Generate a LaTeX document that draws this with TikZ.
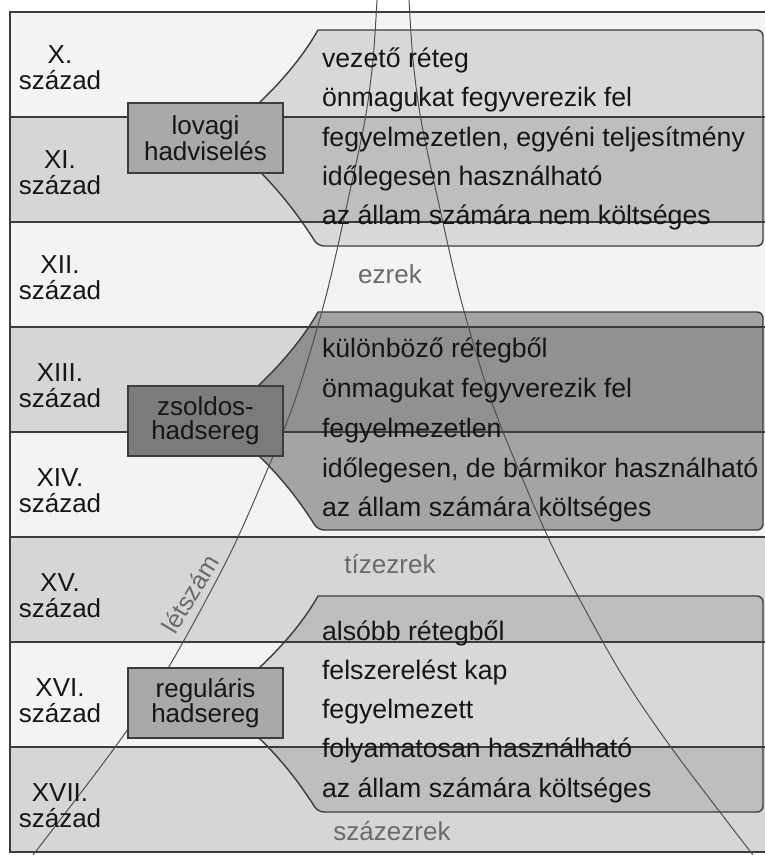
\documentclass[tikz,border=0pt]{standalone}
\usepackage{fontspec}
\setmainfont{Liberation Sans}
\definecolor{bandlight}{HTML}{F3F3F3}
\definecolor{banddark}{HTML}{D6D6D6}
\definecolor{linecol}{HTML}{3C3C3C}
\definecolor{curvecol}{HTML}{505050}
\definecolor{boxlight}{HTML}{A9A9A9}
\definecolor{boxdark}{HTML}{7B7B7B}
\definecolor{graytext}{HTML}{6A6A6A}
\definecolor{txt}{HTML}{161616}
\begin{document}
\begin{tikzpicture}[x=1pt,y=-1pt,
  every node/.style={inner sep=0pt, outer sep=0pt},
  cent/.style={font=\fontsize{26}{26}\selectfont, anchor=base, text=txt},
  ct/.style={font=\fontsize{26.7}{26.7}\selectfont, anchor=base west, text=txt},
  gl/.style={font=\fontsize{26}{26}\selectfont, anchor=base, text=graytext},
  hbox/.style={draw=linecol, line width=1.8pt, minimum width=155pt, minimum height=70pt,
    align=center, font=\fontsize{26}{24}\selectfont, text=txt},
  bandline/.style={draw=linecol, line width=2pt},
  co/.style={draw=linecol, line width=1.4pt, fill=black},
  curve/.style={draw=curvecol, line width=1pt},
]
\useasboundingbox (0,0) rectangle (765,855);
\fill[white] (0,0) rectangle (765,855);

% century bands
\fill[bandlight] (10,12)  rectangle (765,117);
\fill[banddark]  (10,117) rectangle (765,222);
\fill[bandlight] (10,222) rectangle (765,327);
\fill[banddark]  (10,327) rectangle (765,432);
\fill[bandlight] (10,432) rectangle (765,537);
\fill[banddark]  (10,537) rectangle (765,642);
\fill[bandlight] (10,642) rectangle (765,747);
\fill[banddark]  (10,747) rectangle (765,852);

% callouts
\path[co, fill opacity=0.11] (248,113) .. controls (272,92) and (300,62) .. (318,30)
  [rounded corners=6pt] -- (763,30) -- (763,246) -- (318,246) [sharp corners]
  .. controls (300,218) and (280,190) .. (248,160) -- cycle;
\path[co, fill opacity=0.32] (248,395) .. controls (272,374) and (300,344) .. (318,312)
  [rounded corners=6pt] -- (763,312) -- (763,530) -- (318,530) [sharp corners]
  .. controls (300,502) and (280,474) .. (248,446) -- cycle;
\path[co, fill opacity=0.11] (248,678) .. controls (272,657) and (300,628) .. (318,596)
  [rounded corners=6pt] -- (763,596) -- (763,812) -- (318,812) [sharp corners]
  .. controls (300,784) and (280,756) .. (248,728) -- cycle;

% band lines
\foreach \yy in {117,222,327,432,537,642,747} {
  \draw[bandline] (10,\yy) -- (765,\yy);
}
% frame
\draw[draw=linecol, line width=2pt] (10,12) rectangle (770,852);

% headcount curves
\draw[curve] plot[smooth] coordinates {(377,0) (373,60) (365,120) (348,200) (325,300) (295,400) (263,480) (227,560) (167,670) (113,750) (33,855)};
\draw[curve] plot[smooth] coordinates {(409,0) (413,60) (421,120) (438,200) (461,300) (491,400) (523,480) (559,560) (619,670) (673,750) (753,855)};

% boxes
\node[hbox, fill=boxlight] (lovagi) at (205.5,138) {lovagi\\hadviselés};
\node[hbox, fill=boxdark] (zsoldos) at (205.5,421) {zsoldos-\\hadsereg};
\node[hbox, fill=boxlight] (regularis) at (205.5,703) {reguláris\\hadsereg};

% century labels
\node[cent] (c10a) at (60,63) {X.};   \node[cent] (c10b) at (60,89) {század};
\node[cent] (c11a) at (60,168) {XI.}; \node[cent] (c11b) at (60,194) {század};
\node[cent] (c12a) at (60,273) {XII.}; \node[cent] (c12b) at (60,299) {század};
\node[cent] (c13a) at (60,381) {XIII.}; \node[cent] (c13b) at (60,407) {század};
\node[cent] (c14a) at (60,486) {XIV.}; \node[cent] (c14b) at (60,512) {század};
\node[cent] (c15a) at (60,591) {XV.}; \node[cent] (c15b) at (60,617) {század};
\node[cent] (c16a) at (60,696) {XVI.}; \node[cent] (c16b) at (60,722) {század};
\node[cent] (c17a) at (60,801) {XVII.}; \node[cent] (c17b) at (60,827) {század};

% callout texts
\node[ct] (t11) at (322,67) {vezető réteg};
\node[ct] (t12) at (322,106) {önmagukat fegyverezik fel};
\node[ct] (t13) at (322,146) {fegyelmezetlen, egyéni teljesítmény};
\node[ct] (t14) at (322,185) {időlegesen használható};
\node[ct] (t15) at (322,224) {az állam számára nem költséges};

\node[ct] (t21) at (322,357) {különböző rétegből};
\node[ct] (t22) at (322,397) {önmagukat fegyverezik fel};
\node[ct] (t23) at (322,437) {fegyelmezetlen};
\node[ct] (t24) at (322,477) {időlegesen, de bármikor használható};
\node[ct] (t25) at (322,516) {az állam számára költséges};

\node[ct] (t31) at (322,640) {alsóbb rétegből};
\node[ct] (t32) at (322,679) {felszerelést kap};
\node[ct] (t33) at (322,718) {fegyelmezett};
\node[ct] (t34) at (322,757) {folyamatosan használható};
\node[ct] (t35) at (322,797) {az állam számára költséges};

% size labels
\node[gl] (ezrek) at (390,283) {ezrek};
\node[gl] (tizezrek) at (390,573) {tízezrek};
\node[gl] (szazezrek) at (392,840) {százezrek};
\node[gl, anchor=center, rotate=59, font=\fontsize{25}{25}\selectfont] (letszam) at (190,594) {létszám};
\end{tikzpicture}
\end{document}
